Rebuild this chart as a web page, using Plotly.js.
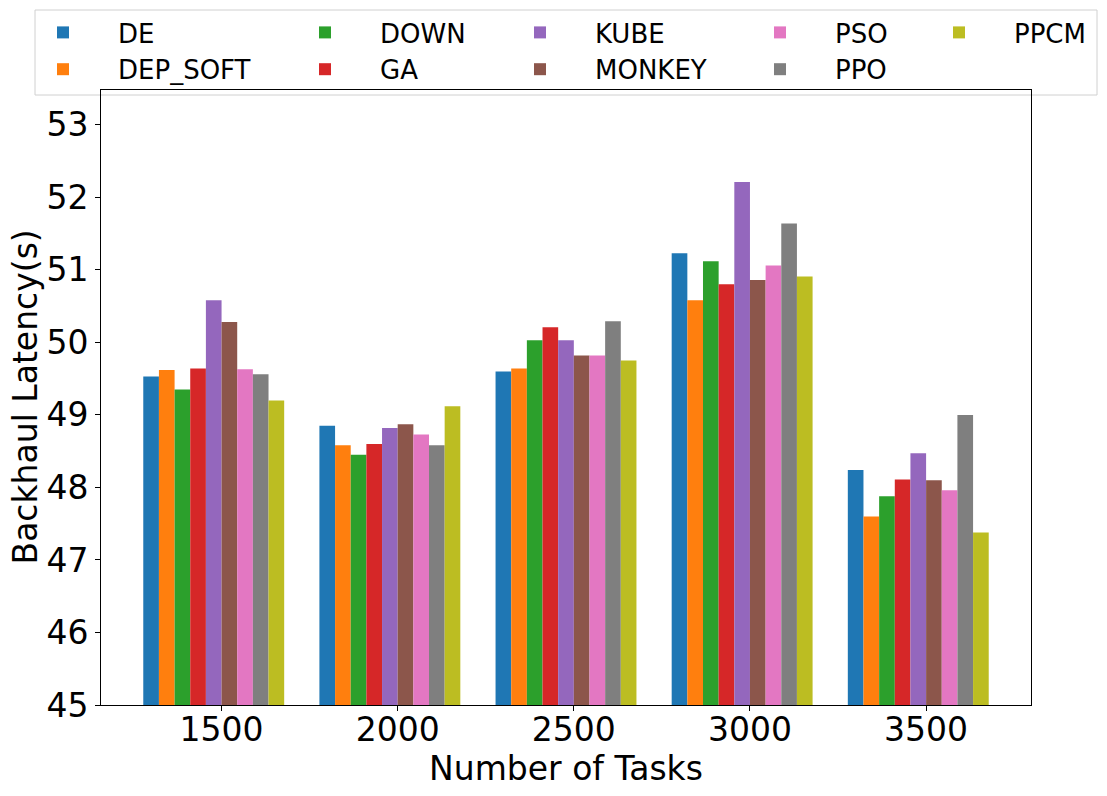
<!DOCTYPE html>
<html>
<head>
<meta charset="utf-8">
<script src="https://cdn.plot.ly/plotly-3.0.1.min.js"></script>
<style>html,body{margin:0;padding:0;background:#fff;}#chart{width:1107px;height:796px;}</style>
</head>
<body>
<div id="chart"></div>
<script>
const categories = ["1500", "2000", "2500", "3000", "3500"];
const DE       = [49.53, 48.85, 49.60, 51.23, 48.24];
const DEP_SOFT = [49.62, 48.58, 49.64, 50.58, 47.60];
const DOWN     = [49.35, 48.45, 50.03, 51.12, 47.88];
const GA       = [49.64, 48.60, 50.21, 50.80, 48.11];
const KUBE     = [50.58, 48.82, 50.03, 52.21, 48.47];
const MONKEY   = [50.28, 48.87, 49.82, 50.86, 48.10];
const PSO      = [49.63, 48.73, 49.82, 51.06, 47.96];
const PPO      = [49.56, 48.58, 50.29, 51.64, 49.00];
const PPCM     = [49.20, 49.12, 49.75, 50.91, 47.38];

const seriesNames = ["DE", "DEP_SOFT", "DOWN", "GA", "KUBE", "MONKEY", "PSO", "PPO", "PPCM"];
const seriesValues = [DE, DEP_SOFT, DOWN, GA, KUBE, MONKEY, PSO, PPO, PPCM];
const colors = ["#1f77b4", "#ff7f0e", "#2ca02c", "#d62728", "#9467bd", "#8c564b", "#e377c2", "#7f7f7f", "#bcbd22"];
// legend columns (2 entries per column, column-major like the reference)
const legendIds = ["legend", "legend", "legend2", "legend2", "legend3", "legend3", "legend4", "legend4", "legend5"];
const yTitle = "Backhaul Latency(s)";
const xTitle = "Number of Tasks";

const groupPos = categories.map((c, i) => i);
// in the reference the tick sits half a bar to the right of the group centre
const tickPos = groupPos.map(p => p + 0.8 / 9 / 2);

const traces = seriesNames.map((name, i) => ({
  type: "bar",
  name: name,
  x: groupPos,
  y: seriesValues[i],
  marker: {color: colors[i], line: {width: 0}},
  legend: legendIds[i],
  legendgroup: name
}));

const font = "DejaVu Sans, Arial, sans-serif";
const FW = 1107, FH = 796;
const W = 930, H = 615, L = 101, B = 705;
const px2x = p => (p - L) / W;
const px2y = p => (B - p) / H;

function legendAt(leftPx) {
  return {
    orientation: "v", xref: "container", yref: "container",
    x: leftPx / FW, xanchor: "left", y: 1 - 9 / FH, yanchor: "top",
    bgcolor: "rgba(0,0,0,0)", borderwidth: 0, itemwidth: 100,
    font: {family: font, size: 26, color: "#000"},
    traceorder: "normal", tracegroupgap: 7
  };
}

const layout = {
  width: FW, height: FH,
  margin: {l: L, r: 76, t: 90, b: 91, autoexpand: false},
  paper_bgcolor: "#fff", plot_bgcolor: "#fff",
  barmode: "group", bargap: 0.2, bargroupgap: 0,
  font: {family: font, color: "#000"},
  showlegend: true,
  legend: legendAt(8),
  legend2: legendAt(270),
  legend3: legendAt(485),
  legend4: legendAt(725),
  legend5: legendAt(904),
  shapes: [{
    type: "rect", xref: "paper", yref: "paper", layer: "below",
    x0: px2x(35), x1: px2x(1097), y0: px2y(95), y1: px2y(10),
    line: {color: "#d0d0d0", width: 1}, fillcolor: "rgba(255,255,255,0.8)"
  }],
  annotations: [{
    xref: "paper", yref: "paper", x: px2x(25), y: 0.5,
    xanchor: "center", yanchor: "middle", textangle: -90, showarrow: false,
    text: yTitle, font: {family: font, size: 33, color: "#000"}
  }],
  xaxis: {
    type: "linear", range: [-0.64, 4.64],
    tickmode: "array", tickvals: tickPos, ticktext: categories,
    showline: true, linecolor: "#000", linewidth: 1, mirror: true,
    ticks: "outside", ticklen: 5, tickcolor: "#000", ticklabelstandoff: -10,
    showgrid: false, zeroline: false,
    tickfont: {family: font, size: 33, color: "#000"},
    title: {text: xTitle, font: {family: font, size: 33, color: "#000"}, standoff: 0}
  },
  yaxis: {
    range: [45, 53.48], dtick: 1, tick0: 45,
    showline: true, linecolor: "#000", linewidth: 1, mirror: true,
    ticks: "outside", ticklen: 5, tickcolor: "#000",
    showgrid: false, zeroline: false,
    tickfont: {family: font, size: 33, color: "#000"}
  }
};

Plotly.newPlot("chart", traces, layout, {displayModeBar: false, staticPlot: true});
</script>
</body>
</html>
